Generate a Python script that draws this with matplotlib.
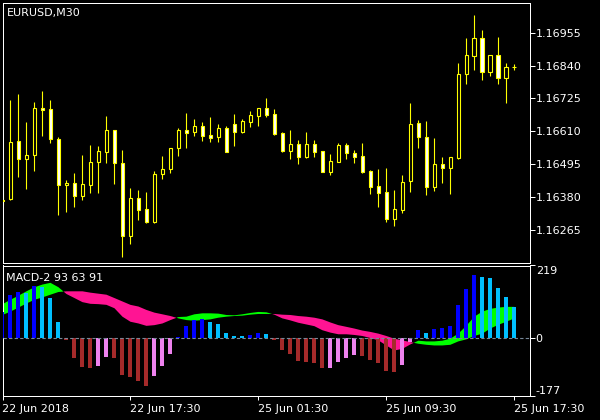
import numpy as np
import matplotlib
matplotlib.use('Agg')
import matplotlib.pyplot as plt
from matplotlib.patches import Rectangle

# EURUSD M30 bars, 22 Jun 09:30 .. 25 Jun 17:30
opens = [1.16370, 1.16372, 1.16575, 1.16512, 1.16526, 1.16692, 1.16688, 1.16582, 1.16421, 1.16428,
         1.16383, 1.16421, 1.16502, 1.16539, 1.16614, 1.16498, 1.16245, 1.16376, 1.16337, 1.16294,
         1.16460, 1.16477, 1.16551, 1.16615, 1.16609, 1.16629, 1.16597, 1.16589, 1.16621, 1.16636,
         1.16609, 1.16643, 1.16665, 1.16692, 1.16671, 1.16603, 1.16542, 1.16566, 1.16521, 1.16566,
         1.16541, 1.16469, 1.16504, 1.16562, 1.16534, 1.16524, 1.16471, 1.16419, 1.16398, 1.16305,
         1.16336, 1.16437, 1.16639, 1.16589, 1.16414, 1.16496, 1.16481, 1.16518, 1.16810, 1.16875,
         1.16935, 1.16819, 1.16876, 1.16798, 1.16834]
highs = [1.16405, 1.16720, 1.16741, 1.16643, 1.16713, 1.16751, 1.16720, 1.16589, 1.16439, 1.16464,
         1.16526, 1.16562, 1.16558, 1.16664, 1.16615, 1.16545, 1.16412, 1.16405, 1.16398, 1.16471,
         1.16524, 1.16551, 1.16622, 1.16674, 1.16653, 1.16643, 1.16660, 1.16636, 1.16629, 1.16671,
         1.16653, 1.16681, 1.16692, 1.16727, 1.16688, 1.16608, 1.16615, 1.16580, 1.16608, 1.16580,
         1.16541, 1.16531, 1.16569, 1.16569, 1.16545, 1.16569, 1.16475, 1.16478, 1.16482, 1.16405,
         1.16457, 1.16709, 1.16650, 1.16646, 1.16587, 1.16520, 1.16519, 1.16849, 1.16936, 1.17017,
         1.16964, 1.16876, 1.16940, 1.16850, 1.16845]
lows = [1.16352, 1.16370, 1.16451, 1.16409, 1.16472, 1.16595, 1.16570, 1.16318, 1.16329, 1.16346,
        1.16371, 1.16395, 1.16395, 1.16500, 1.16427, 1.16169, 1.16217, 1.16301, 1.16290, 1.16290,
        1.16443, 1.16465, 1.16525, 1.16553, 1.16595, 1.16577, 1.16574, 1.16573, 1.16539, 1.16560,
        1.16605, 1.16625, 1.16629, 1.16660, 1.16598, 1.16539, 1.16513, 1.16496, 1.16518, 1.16521,
        1.16469, 1.16457, 1.16504, 1.16513, 1.16499, 1.16465, 1.16391, 1.16346, 1.16294, 1.16279,
        1.16325, 1.16399, 1.16553, 1.16388, 1.16402, 1.16429, 1.16392, 1.16513, 1.16777, 1.16826,
        1.16791, 1.16805, 1.16777, 1.16710, 1.16824]
closes = [1.16365, 1.16572, 1.16512, 1.16526, 1.16692, 1.16685, 1.16582, 1.16421, 1.16428, 1.16383,
          1.16425, 1.16502, 1.16540, 1.16615, 1.16498, 1.16245, 1.16376, 1.16336, 1.16294, 1.16460,
          1.16477, 1.16551, 1.16615, 1.16605, 1.16629, 1.16595, 1.16586, 1.16621, 1.16539, 1.16609,
          1.16646, 1.16667, 1.16692, 1.16667, 1.16601, 1.16542, 1.16566, 1.16521, 1.16566, 1.16539,
          1.16469, 1.16506, 1.16562, 1.16533, 1.16521, 1.16469, 1.16416, 1.16395, 1.16305, 1.16338,
          1.16433, 1.16636, 1.16589, 1.16414, 1.16496, 1.16481, 1.16519, 1.16811, 1.16876, 1.16935,
          1.16819, 1.16876, 1.16798, 1.16834, 1.16834]

# MACD-2 histogram and the two lines that make the coloured band
macd_hist = [78.0, 130.4, 138.6, 135.6, 157.1, 155.1, 121.2, 47.2, -8.2, -62.6,
             -90.4, -93.5, -87.3, -59.6, -60.6, -113.0, -118.1, -131.5, -146.9, -116.0,
             -87.3, -48.3, 1.0, 34.9, 53.4, 57.5, 47.2, 41.1, 13.4, 4.1,
             3.6, 7.2, 13.4, 10.3, -8.2, -35.9, -48.3, -69.8, -72.9, -78.1,
             -93.5, -91.4, -72.9, -60.6, -51.4, -54.4, -66.8, -76.0, -100.6, -103.7,
             -82.2, -14.4, 22.6, 13.4, 25.7, 28.8, 34.9, 99.6, 148.9, 189.0,
             182.8, 182.0, 152.0, 124.3, 93.5]
line_fast = [101.7, 115.0, 127.3, 140.7, 153.0, 161.2, 166.4, 153.0, 132.5, 120.2,
             107.8, 102.7, 101.7, 99.6, 89.3, 63.7, 48.3, 43.1, 35.9, 38.0,
             43.1, 53.4, 62.6, 63.7, 70.9, 73.9, 73.9, 72.9, 68.8, 67.8,
             70.9, 75.0, 78.1, 77.0, 69.8, 58.5, 52.4, 45.2, 40.1, 34.9,
             22.6, 15.4, 10.3, 10.3, 8.2, 5.1, -1.0, -8.2, -23.6, -39.0,
             -33.9, -20.5, -9.2, -11.3, -11.3, -9.2, -3.1, 12.3, 35.9, 63.7,
             79.1, 87.3, 91.4, 93.5, 93.5]
line_slow = [68.8, 79.1, 91.4, 103.7, 115.0, 122.2, 130.4, 138.6, 140.7, 140.7,
             140.7, 136.6, 133.5, 130.4, 120.2, 109.9, 99.6, 94.5, 84.2, 76.0,
             70.9, 65.7, 58.5, 53.4, 51.4, 53.4, 55.5, 60.6, 63.7, 65.7,
             66.8, 69.8, 71.9, 71.9, 71.9, 69.8, 68.8, 65.7, 63.7, 60.6,
             55.5, 46.2, 38.0, 32.9, 27.7, 21.6, 17.5, 12.3, 5.1, -3.1,
             -8.2, -13.4, -18.5, -21.6, -23.6, -23.6, -21.6, -11.3, -5.1, 5.1,
             12.3, 27.7, 39.0, 48.3, 58.5]

time_ticks = [0, 16, 32, 48, 64]
time_labels = ['22 Jun 2018', '22 Jun 17:30', '25 Jun 01:30', '25 Jun 09:30', '25 Jun 17:30']
price_ticks = [1.16265, 1.16380, 1.16495, 1.16610, 1.16725, 1.16840, 1.16955]
macd_ticks = [219, 0, -177]

W, H = 600, 420
YELLOW = '#FFFF00'


def px_box(x0, y0, x1, y1):
    return [x0 / W, 1 - y1 / H, (x1 - x0) / W, (y1 - y0) / H]


def style_axes(ax):
    ax.set_facecolor('black')
    for s in ax.spines.values():
        s.set_color('white')
        s.set_linewidth(0.72)


def main():
    plt.rcParams['font.family'] = ['DejaVu Sans']
    fig = plt.figure(figsize=(W / 100, H / 100), dpi=100, facecolor='black')
    ax = fig.add_axes(px_box(2.5, 2.5, 530, 262.5))
    ax2 = fig.add_axes(px_box(2.5, 265.5, 530, 396), sharex=ax)
    style_axes(ax)
    style_axes(ax2)

    x = np.arange(len(opens))

    # candles
    ax.vlines(x, lows, highs, color=YELLOW, lw=0.8, zorder=2)
    for i in range(len(opens)):
        o, c = opens[i], closes[i]
        face = 'white' if c < o else 'black'
        ax.add_patch(Rectangle((i - 0.23, min(o, c)), 0.46, abs(c - o),
                               facecolor=face, edgecolor=YELLOW, lw=0.8, zorder=3))
    ax.set_xlim(0.025, 65.96)
    ax.set_ylim(1.161513, 1.170606)
    ax.yaxis.tick_right()
    ax.set_yticks(price_ticks, labels=['%.5f' % p for p in price_ticks])
    ax.tick_params(axis='y', colors='white', direction='out', length=3.6, width=0.72,
                   pad=0.5, labelsize=8)
    ax.tick_params(axis='x', bottom=False, labelbottom=False)
    fig.text(7 / W, 1 - 16 / H, 'EURUSD,M30', color='white', fontsize=8, va='baseline')

    # MACD panel
    fast = np.array(line_fast)
    slow = np.array(line_slow)
    ax2.fill_between(x, fast, slow, where=fast >= slow, interpolate=True,
                     color='#00FF00', lw=0, zorder=2)
    ax2.fill_between(x, fast, slow, where=fast < slow, interpolate=True,
                     color='#FF1493', lw=0, zorder=2)

    colors = []
    prev = None
    for v in macd_hist:
        if v >= 0:
            colors.append('#0000FF' if prev is None or v >= prev else '#00BFFF')
        else:
            colors.append('#A52A2A' if prev is None or v <= prev else '#EE82EE')
        prev = v
    ax2.bar(x, macd_hist, width=0.5, color=colors, lw=0, zorder=3)
    ax2.axhline(0, color='#778899', lw=0.8, dashes=(3, 2), zorder=4)

    ax2.set_ylim(-177, 219)
    ax2.yaxis.tick_right()
    ax2.set_yticks(macd_ticks, labels=[str(v) for v in macd_ticks])
    ax2.tick_params(axis='y', colors='white', direction='out', length=3.6, width=0.72,
                    pad=0.5, labelsize=8)
    ylabels = ax2.get_yticklabels()
    ylabels[0].set_va('top')
    ylabels[2].set_va('bottom')

    ax2.set_xticks(time_ticks, labels=time_labels)
    ax2.tick_params(axis='x', colors='white', direction='out', length=3, width=0.72,
                    pad=2.5, labelsize=8)
    for lbl in ax2.get_xticklabels():
        lbl.set_ha('left')
    fig.text(6 / W, 1 - 281 / H, 'MACD-2 93 63 91', color='white', fontsize=8, va='baseline')

    fig.savefig('out.png', dpi=100, facecolor='black')


if __name__ == '__main__':
    main()
